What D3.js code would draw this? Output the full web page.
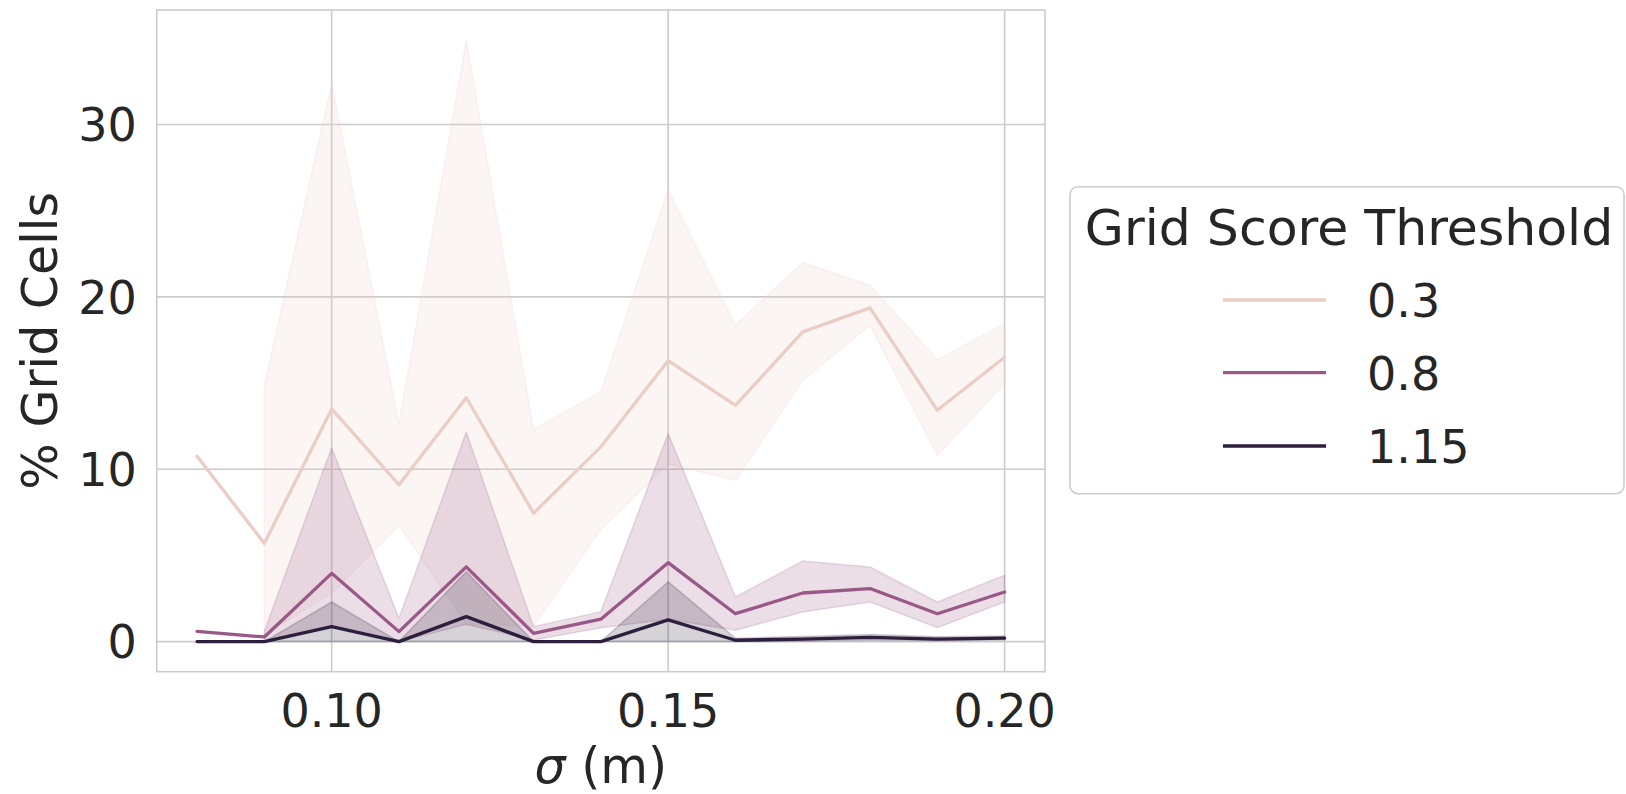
<!DOCTYPE html>
<html>
<head>
<meta charset="utf-8">
<script src="https://cdn.jsdelivr.net/npm/d3@7"></script>
<style>
    body { margin: 0; background: #fff; }
    svg { display: block; font-family: "DejaVu Sans", sans-serif; }
</style>
</head>
<body>
<svg id="chart" width="1626" height="794"></svg>
<script>
// sigma values (x)
const sigma = [0.08, 0.09, 0.10, 0.11, 0.12, 0.13, 0.14, 0.15, 0.16, 0.17, 0.18, 0.19, 0.20];

// grid score threshold 0.3
const mean03 = [10.75, 5.7, 13.5, 9.1, 14.15, 7.45, 11.3, 16.3, 13.7, 17.97, 19.36, 13.42, 16.5];
const lo03 = [null, 0.4, 2.8, 6.76, 1.0, 0.9, 6.5, 10.3, 9.36, 15.16, 18.36, 10.8, 14.97];
const hi03 = [null, 14.85, 32.4, 12.65, 34.9, 12.3, 14.5, 26.2, 18.36, 22.0, 20.68, 16.36, 18.45];

// grid score threshold 0.8
const mean08 = [0.59, 0.27, 3.96, 0.58, 4.34, 0.48, 1.3, 4.58, 1.62, 2.82, 3.08, 1.62, 2.88];
const lo08 = [null, 0.0, 0.9, 0.0, 1.0, 0.1, 0.8, 1.3, 0.66, 1.72, 2.3, 0.81, 2.3];
const hi08 = [null, 0.6, 11.25, 1.35, 12.16, 0.87, 1.74, 12.07, 2.59, 4.68, 4.33, 2.3, 3.85];

// grid score threshold 1.15
const mean115 = [0, 0, 0.87, 0, 1.45, 0, 0, 1.26, 0.08, 0.15, 0.25, 0.15, 0.2];
const lo115 = [null, 0, 0, 0, 0, 0, 0, 0, 0, 0.02, 0.08, 0.05, 0.1];
const hi115 = [null, 0, 2.3, 0, 4.05, 0, 0, 3.47, 0.2, 0.3, 0.42, 0.28, 0.32];

const thresholds = ['0.3', '0.8', '1.15'];
const xTicks = [0.10, 0.15, 0.20];
const yTicks = [0, 10, 20, 30];

const series = [
    { name: thresholds[0], mean: mean03, lo: lo03, hi: hi03, color: '#ebcdc6' },
    { name: thresholds[1], mean: mean08, lo: lo08, hi: hi08, color: '#9a5888' },
    { name: thresholds[2], mean: mean115, lo: lo115, hi: hi115, color: '#2c1e3d' },
];

const textColor = '#262626';
const gridColor = '#cccccc';

const plot = { left: 156.7, right: 1045, top: 10, bottom: 671.7 };

const svg = d3.select('#chart');

// matplotlib-like 5% margins around the data
const xExt = d3.extent(sigma);
const xPad = (xExt[1] - xExt[0]) * 0.05;
const allY = series.flatMap(s => [...s.mean, ...s.lo, ...s.hi]).filter(v => v != null);
const yExt = d3.extent(allY);
const yPad = (yExt[1] - yExt[0]) * 0.05;

const x = d3.scaleLinear()
    .domain([xExt[0] - xPad, xExt[1] + xPad])
    .range([plot.left, plot.right]);

const y = d3.scaleLinear()
    .domain([yExt[0] - yPad, yExt[1] + yPad])
    .range([plot.bottom, plot.top]);

// grid
const grid = svg.append('g');
grid.selectAll('line.gx')
    .data(xTicks)
    .join('line')
    .attr('x1', d => x(d)).attr('x2', d => x(d))
    .attr('y1', plot.top).attr('y2', plot.bottom)
    .attr('stroke', gridColor)
    .attr('stroke-width', 1.6);
grid.selectAll('line.gy')
    .data(yTicks)
    .join('line')
    .attr('x1', plot.left).attr('x2', plot.right)
    .attr('y1', d => y(d)).attr('y2', d => y(d))
    .attr('stroke', gridColor)
    .attr('stroke-width', 1.6);

// confidence bands
const area = d3.area()
    .defined((d, i) => d.lo != null)
    .x(d => x(d.x))
    .y0(d => y(d.lo))
    .y1(d => y(d.hi));

series.forEach(s => {
    const pts = sigma.map((v, i) => ({ x: v, lo: s.lo[i], hi: s.hi[i] }));
    svg.append('path')
        .datum(pts)
        .attr('d', area)
        .attr('fill', s.color)
        .attr('fill-opacity', 0.2)
        .attr('stroke', s.color)
        .attr('stroke-opacity', 0.2)
        .attr('stroke-width', 1.5)
        .attr('stroke-linejoin', 'round');
});

// mean lines
const line = d3.line()
    .x(d => x(d.x))
    .y(d => y(d.v));

series.forEach(s => {
    svg.append('path')
        .datum(sigma.map((v, i) => ({ x: v, v: s.mean[i] })))
        .attr('d', line)
        .attr('fill', 'none')
        .attr('stroke', s.color)
        .attr('stroke-width', 3.3)
        .attr('stroke-linecap', 'round')
        .attr('stroke-linejoin', 'round');
});

// frame
svg.append('rect')
    .attr('x', plot.left).attr('y', plot.top)
    .attr('width', plot.right - plot.left)
    .attr('height', plot.bottom - plot.top)
    .attr('fill', 'none')
    .attr('stroke', gridColor)
    .attr('stroke-width', 1.6);

// tick labels
svg.append('g')
    .selectAll('text')
    .data(yTicks)
    .join('text')
    .attr('x', 136.7)
    .attr('y', d => y(d) + 16.8)
    .attr('text-anchor', 'end')
    .attr('font-size', 46)
    .attr('fill', textColor)
    .text(d => d3.format('d')(d));

svg.append('g')
    .selectAll('text')
    .data(xTicks)
    .join('text')
    .attr('x', d => x(d))
    .attr('y', 726.7)
    .attr('text-anchor', 'middle')
    .attr('font-size', 46)
    .attr('fill', textColor)
    .text(d => d3.format('.2f')(d));

// axis labels
const xLabel = svg.append('text')
    .attr('x', (plot.left + plot.right) / 2)
    .attr('y', 783)
    .attr('text-anchor', 'middle')
    .attr('font-size', 49)
    .attr('fill', textColor);
xLabel.append('tspan').attr('font-style', 'italic').text('σ');
xLabel.append('tspan').text(' (m)');

svg.append('text')
    .attr('transform', `translate(57, ${(plot.top + plot.bottom) / 2}) rotate(-90)`)
    .attr('text-anchor', 'middle')
    .attr('font-size', 49)
    .attr('fill', textColor)
    .text('% Grid Cells');

// legend
const legend = svg.append('g');
legend.append('rect')
    .attr('x', 1070).attr('y', 186.7)
    .attr('width', 554).attr('height', 307)
    .attr('rx', 8)
    .attr('fill', '#fff')
    .attr('fill-opacity', 0.8)
    .attr('stroke', gridColor)
    .attr('stroke-width', 1.6);

legend.append('text')
    .attr('x', 1349)
    .attr('y', 245)
    .attr('text-anchor', 'middle')
    .attr('font-size', 50.5)
    .attr('fill', textColor)
    .text('Grid Score Threshold');

const rowY = [300, 372.7, 446];
series.forEach((s, i) => {
    legend.append('line')
        .attr('x1', 1223).attr('x2', 1326)
        .attr('y1', rowY[i]).attr('y2', rowY[i])
        .attr('stroke', s.color)
        .attr('stroke-width', 3.3);
    legend.append('text')
        .attr('x', 1367)
        .attr('y', rowY[i] + 16.8)
        .attr('font-size', 46)
        .attr('fill', textColor)
        .text(s.name);
});
</script>
</body>
</html>
